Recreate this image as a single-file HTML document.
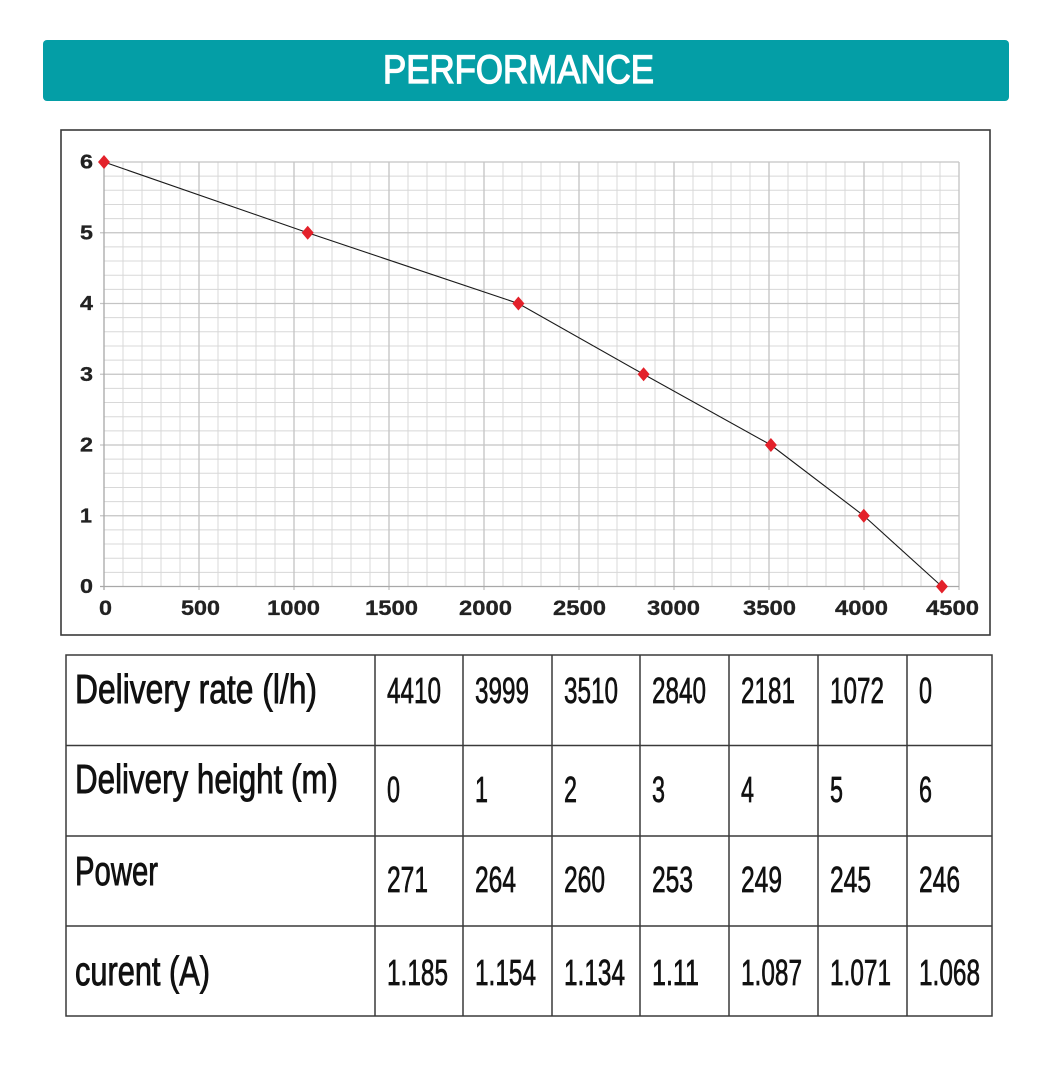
<!DOCTYPE html>
<html>
<head>
<meta charset="utf-8">
<style>
  html, body { margin:0; padding:0; background:#fff; }
  svg { display:block; }
</style>
</head>
<body>
<svg width="1040" height="1068" viewBox="0 0 1040 1068" xmlns="http://www.w3.org/2000/svg">
  <rect x="0" y="0" width="1040" height="1068" fill="#ffffff"/>

  <!-- Header -->
  <rect x="43" y="40" width="966" height="61" rx="4" ry="4" fill="#049ea6"/>
  <text x="383" y="83" font-family="Liberation Sans, sans-serif" font-size="40" fill="#ffffff" stroke="#ffffff" stroke-width="1.3" textLength="271" lengthAdjust="spacingAndGlyphs">PERFORMANCE</text>

  <!-- Chart frame -->
  <rect x="61" y="130" width="929" height="505" fill="#ffffff" stroke="#3a3a3a" stroke-width="1.6"/>

  <!-- Minor grid -->
  <g stroke="#d8d8d8" stroke-width="1" fill="none">
    <path d="M123,162V586.5 M142,162V586.5 M161,162V586.5 M180,162V586.5 M218,162V586.5 M237,162V586.5 M256,162V586.5 M275,162V586.5 M313,162V586.5 M332,162V586.5 M351,162V586.5 M370,162V586.5 M408,162V586.5 M427,162V586.5 M446,162V586.5 M465,162V586.5 M503,162V586.5 M522,162V586.5 M541,162V586.5 M560,162V586.5 M598,162V586.5 M617,162V586.5 M636,162V586.5 M655,162V586.5 M693,162V586.5 M712,162V586.5 M731,162V586.5 M750,162V586.5 M788,162V586.5 M807,162V586.5 M826,162V586.5 M845,162V586.5 M883,162V586.5 M902,162V586.5 M921,162V586.5 M940,162V586.5"/>
    <path d="M104,572.35H959 M104,558.2H959 M104,544.05H959 M104,529.9H959 M104,501.6H959 M104,487.45H959 M104,473.3H959 M104,459.15H959 M104,430.85H959 M104,416.7H959 M104,402.55H959 M104,388.4H959 M104,360.1H959 M104,345.95H959 M104,331.8H959 M104,317.65H959 M104,289.35H959 M104,275.2H959 M104,261.05H959 M104,246.9H959 M104,218.6H959 M104,204.45H959 M104,190.3H959 M104,176.15H959"/>
  </g>
  <!-- Major grid -->
  <g stroke="#c4c4c4" stroke-width="1.3" fill="none">
    <path d="M199,162V590 M294,162V590 M389,162V590 M484,162V590 M579,162V590 M674,162V590 M769,162V590 M864,162V590 M959,162V590"/>
    <path d="M100,515.75H959 M100,445H959 M100,374.25H959 M100,303.5H959 M100,232.75H959 M100,162H959"/>
  </g>
  <!-- Axes -->
  <g stroke="#a8a8a8" stroke-width="1.3" fill="none">
    <path d="M104,162V590 M100,586.5H959"/>
  </g>

  <!-- Y labels -->
  <g font-family="Liberation Sans, sans-serif" font-size="20" font-weight="bold" fill="#222" stroke="#222" stroke-width="0.3">
    <text x="80" y="593" textLength="13" lengthAdjust="spacingAndGlyphs">0</text>
    <text x="80" y="522.5" textLength="12" lengthAdjust="spacingAndGlyphs">1</text>
    <text x="80" y="451.5" textLength="13" lengthAdjust="spacingAndGlyphs">2</text>
    <text x="80" y="381" textLength="13" lengthAdjust="spacingAndGlyphs">3</text>
    <text x="80" y="310" textLength="13" lengthAdjust="spacingAndGlyphs">4</text>
    <text x="80" y="239.5" textLength="13" lengthAdjust="spacingAndGlyphs">5</text>
    <text x="80" y="168.5" textLength="13" lengthAdjust="spacingAndGlyphs">6</text>
  </g>
  <!-- X labels -->
  <g font-family="Liberation Sans, sans-serif" font-size="21" font-weight="bold" fill="#222" stroke="#222" stroke-width="0.3">
    <text x="99" y="615" textLength="13" lengthAdjust="spacingAndGlyphs">0</text>
    <text x="181" y="615" textLength="39" lengthAdjust="spacingAndGlyphs">500</text>
    <text x="267" y="615" textLength="53" lengthAdjust="spacingAndGlyphs">1000</text>
    <text x="365" y="615" textLength="53" lengthAdjust="spacingAndGlyphs">1500</text>
    <text x="459" y="615" textLength="53" lengthAdjust="spacingAndGlyphs">2000</text>
    <text x="553" y="615" textLength="53" lengthAdjust="spacingAndGlyphs">2500</text>
    <text x="647" y="615" textLength="53" lengthAdjust="spacingAndGlyphs">3000</text>
    <text x="743" y="615" textLength="53" lengthAdjust="spacingAndGlyphs">3500</text>
    <text x="835" y="615" textLength="53" lengthAdjust="spacingAndGlyphs">4000</text>
    <text x="926" y="615" textLength="53" lengthAdjust="spacingAndGlyphs">4500</text>
  </g>

  <!-- Series line -->
  <polyline points="104,162 307.7,232.75 518.4,303.5 643.6,374.25 770.9,445 863.8,515.75 941.9,586.5" fill="none" stroke="#1a1a1a" stroke-width="1.1"/>
  <!-- Markers -->
  <g fill="#e3212a">
    <polygon points="104,155 110,162 104,169 98,162"/>
    <polygon points="307.7,225.75 313.7,232.75 307.7,239.75 301.7,232.75"/>
    <polygon points="518.4,296.5 524.4,303.5 518.4,310.5 512.4,303.5"/>
    <polygon points="643.6,367.25 649.6,374.25 643.6,381.25 637.6,374.25"/>
    <polygon points="770.9,438 776.9,445 770.9,452 764.9,445"/>
    <polygon points="863.8,508.75 869.8,515.75 863.8,522.75 857.8,515.75"/>
    <polygon points="941.9,579.5 947.9,586.5 941.9,593.5 935.9,586.5"/>
  </g>

  <!-- Table -->
  <rect x="66" y="655" width="926" height="361" fill="#ffffff"/>
  <g stroke="#3a3a3a" stroke-width="1.5" fill="none">
    <rect x="66" y="655" width="926" height="361"/>
    <path d="M66,745.5H992 M66,836H992 M66,926H992"/>
    <path d="M375,655V1016 M463,655V1016 M552,655V1016 M640,655V1016 M729,655V1016 M818,655V1016 M907,655V1016"/>
  </g>

  <g font-family="Liberation Sans, sans-serif" font-size="41" fill="#111" stroke="#111" stroke-width="0.9">
    <text x="75" y="703" textLength="242" lengthAdjust="spacingAndGlyphs">Delivery rate (l/h)</text>
    <text x="75" y="793" textLength="263" lengthAdjust="spacingAndGlyphs">Delivery height (m)</text>
    <text x="75" y="885" textLength="83" lengthAdjust="spacingAndGlyphs">Power</text>
    <text x="75" y="985" textLength="135" lengthAdjust="spacingAndGlyphs">curent (A)</text>
  </g>

  <g font-family="Liberation Sans, sans-serif" font-size="36" fill="#111" stroke="#111" stroke-width="0.7">
    <!-- Row 1 -->
    <text x="387" y="703" textLength="54" lengthAdjust="spacingAndGlyphs">4410</text>
    <text x="475" y="703" textLength="54" lengthAdjust="spacingAndGlyphs">3999</text>
    <text x="564" y="703" textLength="54" lengthAdjust="spacingAndGlyphs">3510</text>
    <text x="652" y="703" textLength="54" lengthAdjust="spacingAndGlyphs">2840</text>
    <text x="741" y="703" textLength="54" lengthAdjust="spacingAndGlyphs">2181</text>
    <text x="830" y="703" textLength="54" lengthAdjust="spacingAndGlyphs">1072</text>
    <text x="919" y="703" textLength="13" lengthAdjust="spacingAndGlyphs">0</text>
    <!-- Row 2 -->
    <text x="387" y="802" textLength="13" lengthAdjust="spacingAndGlyphs">0</text>
    <text x="475" y="802" textLength="13" lengthAdjust="spacingAndGlyphs">1</text>
    <text x="564" y="802" textLength="13" lengthAdjust="spacingAndGlyphs">2</text>
    <text x="652" y="802" textLength="13" lengthAdjust="spacingAndGlyphs">3</text>
    <text x="741" y="802" textLength="13" lengthAdjust="spacingAndGlyphs">4</text>
    <text x="830" y="802" textLength="13" lengthAdjust="spacingAndGlyphs">5</text>
    <text x="919" y="802" textLength="13" lengthAdjust="spacingAndGlyphs">6</text>
    <!-- Row 3 -->
    <text x="387" y="892" textLength="41" lengthAdjust="spacingAndGlyphs">271</text>
    <text x="475" y="892" textLength="41" lengthAdjust="spacingAndGlyphs">264</text>
    <text x="564" y="892" textLength="41" lengthAdjust="spacingAndGlyphs">260</text>
    <text x="652" y="892" textLength="41" lengthAdjust="spacingAndGlyphs">253</text>
    <text x="741" y="892" textLength="41" lengthAdjust="spacingAndGlyphs">249</text>
    <text x="830" y="892" textLength="41" lengthAdjust="spacingAndGlyphs">245</text>
    <text x="919" y="892" textLength="41" lengthAdjust="spacingAndGlyphs">246</text>
    <!-- Row 4 -->
    <text x="387" y="985" textLength="61" lengthAdjust="spacingAndGlyphs">1.185</text>
    <text x="475" y="985" textLength="61" lengthAdjust="spacingAndGlyphs">1.154</text>
    <text x="564" y="985" textLength="61" lengthAdjust="spacingAndGlyphs">1.134</text>
    <text x="652" y="985" textLength="47" lengthAdjust="spacingAndGlyphs">1.11</text>
    <text x="741" y="985" textLength="61" lengthAdjust="spacingAndGlyphs">1.087</text>
    <text x="830" y="985" textLength="61" lengthAdjust="spacingAndGlyphs">1.071</text>
    <text x="919" y="985" textLength="61" lengthAdjust="spacingAndGlyphs">1.068</text>
  </g>
</svg>
</body>
</html>
